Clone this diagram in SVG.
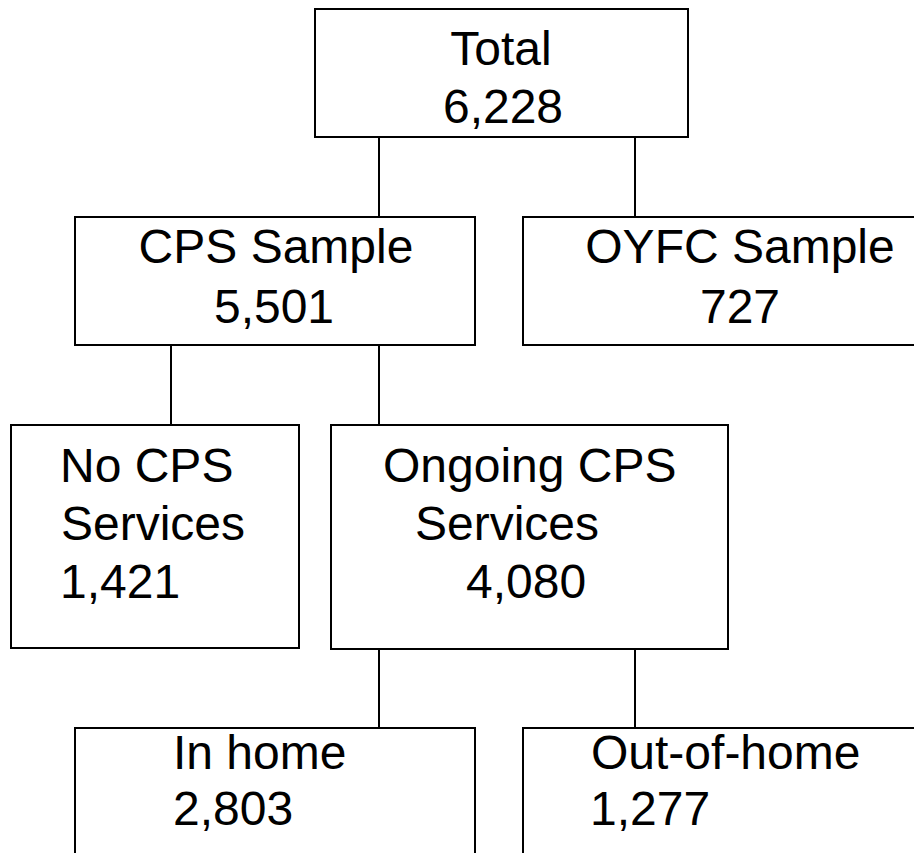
<svg xmlns="http://www.w3.org/2000/svg" width="914" height="853" viewBox="0 0 914 853">
  <style>
    .box { fill: #ffffff; stroke: #000000; stroke-width: 2; }
    .link { stroke: #000000; stroke-width: 2; fill: none; }
    text { font-family: "Liberation Sans", Arial, sans-serif; font-size: 48px; fill: #000000; }
    .mid { text-anchor: middle; }
  </style>
  <rect width="914" height="853" fill="#ffffff"/>

  <g id="connectors">
    <line class="link" x1="379" y1="137" x2="379" y2="217"/>
    <line class="link" x1="635" y1="137" x2="635" y2="217"/>
    <line class="link" x1="171" y1="345" x2="171" y2="425"/>
    <line class="link" x1="379" y1="345" x2="379" y2="425"/>
    <line class="link" x1="379" y1="649" x2="379" y2="728"/>
    <line class="link" x1="635" y1="649" x2="635" y2="728"/>
  </g>

  <g id="total">
    <rect class="box" x="315" y="9" width="373" height="128"/>
    <text class="mid" x="501" y="65">Total</text>
    <text class="mid" x="503" y="123">6,228</text>
  </g>

  <g id="cps-sample">
    <rect class="box" x="75" y="217" width="400" height="128"/>
    <text class="mid" x="276" y="263">CPS Sample</text>
    <text class="mid" x="274" y="323">5,501</text>
  </g>

  <g id="oyfc-sample">
    <rect class="box" x="523" y="217" width="440" height="128"/>
    <text class="mid" x="740" y="263">OYFC Sample</text>
    <text class="mid" x="740" y="323">727</text>
  </g>

  <g id="no-cps-services">
    <rect class="box" x="11" y="425" width="288" height="223"/>
    <text x="60" y="482">No CPS</text>
    <text x="61" y="540">Services</text>
    <text x="60" y="598">1,421</text>
  </g>

  <g id="ongoing-cps-services">
    <rect class="box" x="331" y="425" width="397" height="224"/>
    <text x="383" y="482">Ongoing CPS</text>
    <text x="415" y="540">Services</text>
    <text x="466" y="598">4,080</text>
  </g>

  <g id="in-home">
    <rect class="box" x="75" y="728" width="400" height="200"/>
    <text x="173" y="769">In home</text>
    <text x="173" y="825">2,803</text>
  </g>

  <g id="out-of-home">
    <rect class="box" x="523" y="728" width="440" height="200"/>
    <text x="591" y="769">Out-of-home</text>
    <text x="590" y="825">1,277</text>
  </g>
</svg>
